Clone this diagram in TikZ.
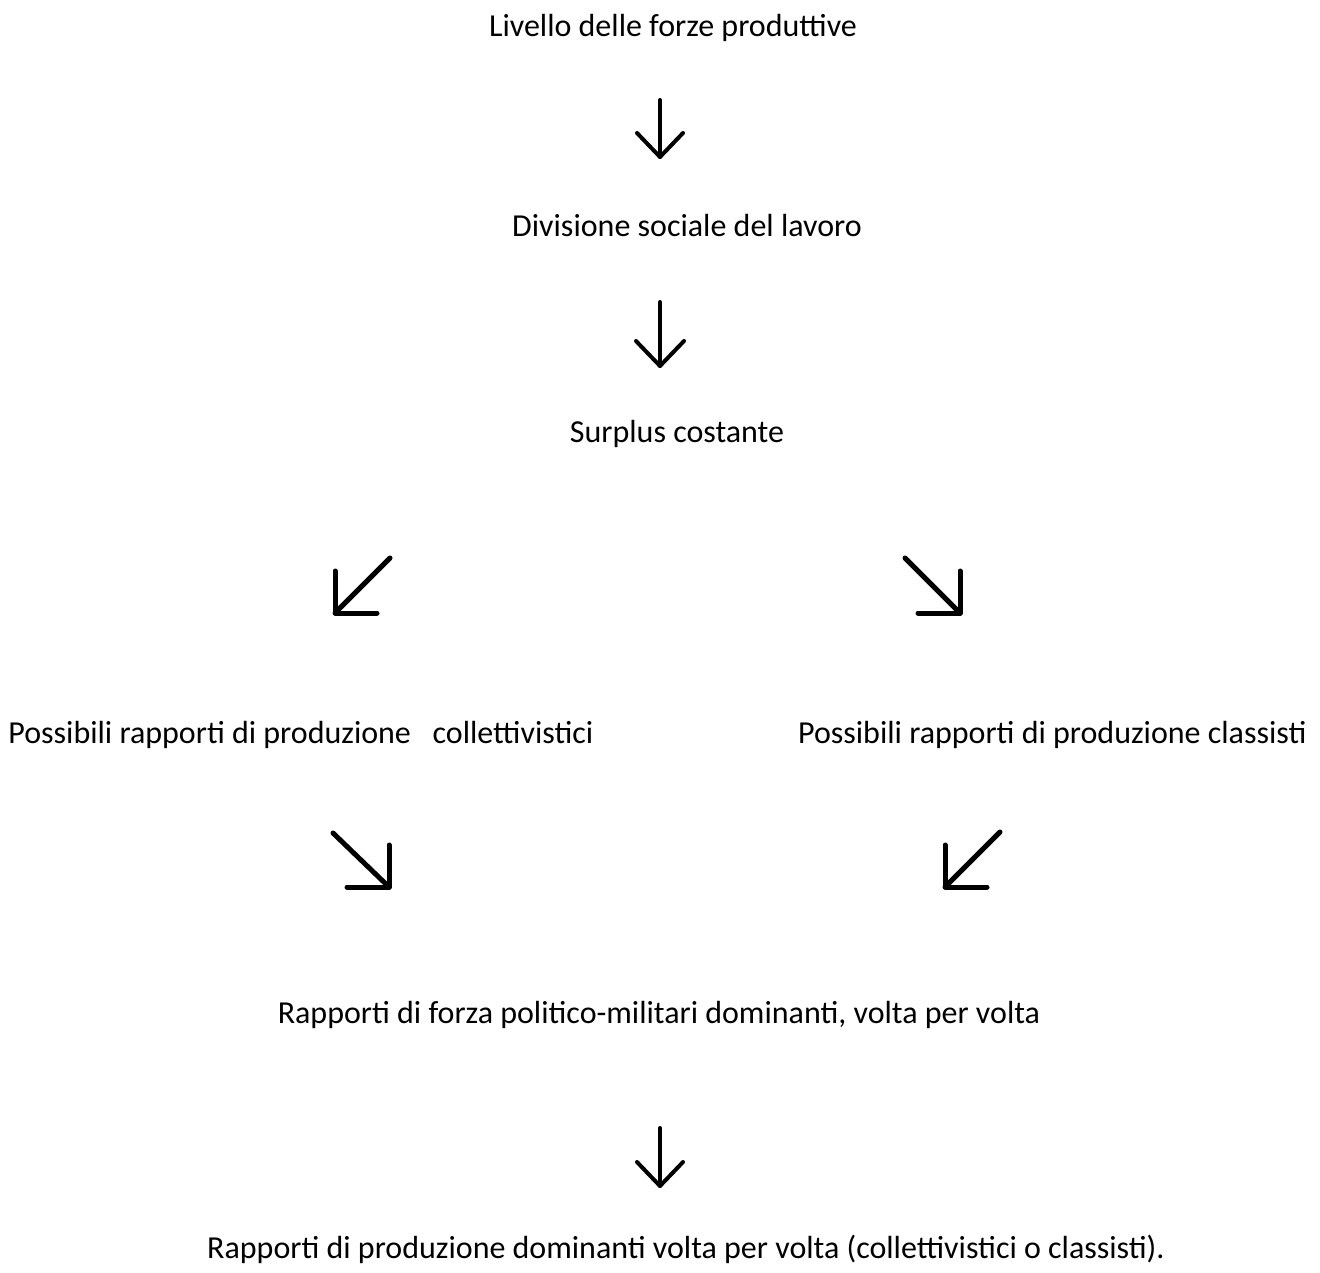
\documentclass[tikz,border=0pt]{standalone}
\usepackage{fontspec}
\setmainfont{Carlito}
\begin{document}
\begin{tikzpicture}[x=0.5pt,y=-0.5pt,
  lbl/.style={inner sep=0pt, anchor=base, font=\fontsize{16}{19}\selectfont},
  darr/.style={line width=2pt, line cap=round, line join=round},
  garr/.style={line width=2.5pt, line cap=round, line join=round}]
\useasboundingbox[fill=white] (0,0) rectangle (1320,1272);
% texts
\node[lbl] (t1) at (673,37) {Livello delle forze produttive};
\node[lbl] (t2) at (687,237) {Divisione sociale del lavoro};
\node[lbl] (t3) at (677,443) {Surplus costante};
\node[lbl, anchor=base west] (t4) at (8,743) {Possibili rapporti di produzione\ \ \ collettivistici};
\node[lbl, anchor=base east] (t5) at (1307,743) {Possibili rapporti di produzione classisti};
\node[lbl] (t6) at (659,1023) {Rapporti di forza politico-militari dominanti, volta per volta};
\node[lbl] (t7) at (686,1258) {Rapporti di produzione dominanti volta per volta (collettivistici o classisti).};
% arrow 1 (down)
\coordinate (a1s) at (660,100); \coordinate (a1t) at (660,157);
\coordinate (a1l) at (637,133); \coordinate (a1r) at (683,133);
\draw[darr] (a1s) -- (a1t); \draw[darr] (a1l) -- (a1t) -- (a1r);
% arrow 2 (down)
\coordinate (a2s) at (660,302); \coordinate (a2t) at (660,366);
\coordinate (a2l) at (636,341); \coordinate (a2r) at (684,341);
\draw[darr] (a2s) -- (a2t); \draw[darr] (a2l) -- (a2t) -- (a2r);
% arrow 3 (south-west, upper)
\coordinate (a3s) at (390,558); \coordinate (a3t) at (335,613);
\coordinate (a3u) at (335,571); \coordinate (a3h) at (377,613);
\draw[garr] (a3s) -- (a3t); \draw[garr] (a3u) -- (a3t) -- (a3h);
% arrow 4 (south-east, upper)
\coordinate (a4s) at (905,558); \coordinate (a4t) at (960,613);
\coordinate (a4u) at (960,571); \coordinate (a4h) at (918,613);
\draw[garr] (a4s) -- (a4t); \draw[garr] (a4u) -- (a4t) -- (a4h);
% arrow 5 (south-east, lower)
\coordinate (a5s) at (333,833); \coordinate (a5t) at (389,887);
\coordinate (a5u) at (389,845); \coordinate (a5h) at (347,887);
\draw[garr] (a5s) -- (a5t); \draw[garr] (a5u) -- (a5t) -- (a5h);
% arrow 6 (south-west, lower)
\coordinate (a6s) at (1000,832); \coordinate (a6t) at (945,887);
\coordinate (a6u) at (945,845); \coordinate (a6h) at (987,887);
\draw[garr] (a6s) -- (a6t); \draw[garr] (a6u) -- (a6t) -- (a6h);
% arrow 7 (down)
\coordinate (a7s) at (660,1128); \coordinate (a7t) at (660,1186);
\coordinate (a7l) at (637,1162); \coordinate (a7r) at (683,1162);
\draw[darr] (a7s) -- (a7t); \draw[darr] (a7l) -- (a7t) -- (a7r);
\end{tikzpicture}
\end{document}
